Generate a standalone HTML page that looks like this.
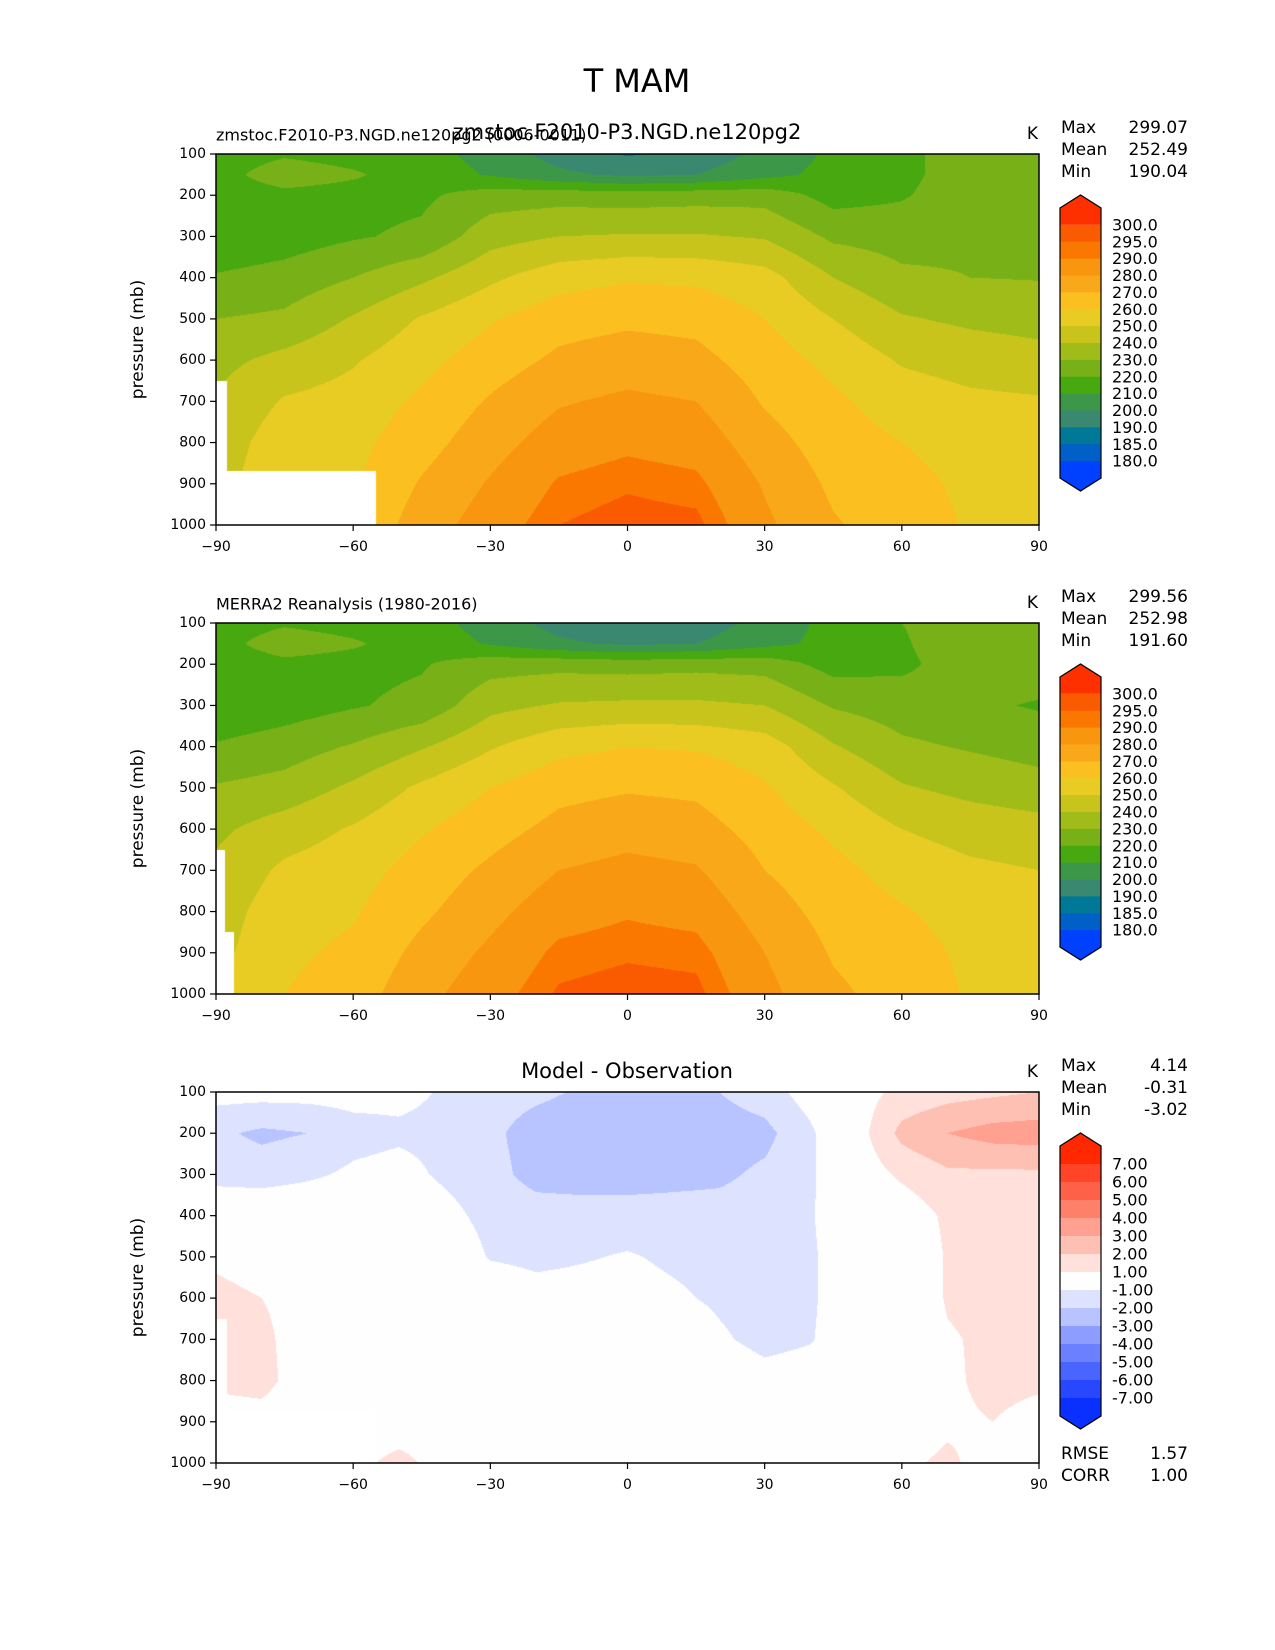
<!DOCTYPE html>
<html><head><meta charset="utf-8"><style>
html,body{margin:0;padding:0;background:#fff;}
#root{position:relative;width:1275px;height:1650px;overflow:hidden;font-family:"DejaVu Sans","Liberation Sans",sans-serif;}
canvas{position:absolute;}
svg{position:absolute;left:0;top:0;}
</style></head><body>
<div id="root">
<svg id="svg" width="1275" height="1650"></svg>
</div>
<script>
// ---------- data ----------
const lats = [-90,-75,-60,-45,-30,-15,0,15,30,45,60,75,90];
const pLevels = [100,150,200,300,400,500,600,700,800,900,1000];
const modelT = [
[216,219,217,214,206,196,189,193,203,212,218,224,226],
[217,224,221,216,209,202,198,200,207,213,217,226,228],
[216,218,217,218,225,226,225,226,226,216,219,226,227],
[212,215,219,222,236,240,241,241,239,228,226,228,229],
[221,224,230,238,248,256,259,258,254,240,232,230,229.5],
[230,232,241,251,259,266,268,267,260,250,241,238,236],
[237,243,249,257,265,272,275,273,265,257,249,246,244],
[241,251,254,262,271,279,282,280,269,262,255,252,251],
[244,256,257,266,276,285,288,286,274,265,260,256,254],
[246,258,259,271,281,291,294,292,279,268,263,258,256],
[248,259,261,275,285,295,298,297,282,271,265,259,258]];
const obsT = [
[216,219,217,214,206,196,190,194,204,213,220,225,226],
[217,224,221,216,209,202,198,200,207,213,219,226,227],
[216,218,217,219,226,227,226,227,226,216,218,225,226],
[212,215,219,223,237,241,242,242,240,229,225,222,219],
[221,225,231,239,249,257,260,259,255,241,232,229,226],
[231,234,242,252,260,267,269,268,261,251,241,237,234],
[238,245,251,259,266,273,276,274,266,258,250,246,244],
[242,252,256,264,272,280,283,281,270,263,256,252,250],
[245,256,259,268,277,286,289,287,275,266,261,256,254],
[247,258,262,273,282,292,294,293,280,269,264,258,256],
[249,260,265,277,286,296,298,297,283,272,266,259,258]];
const diffLats = [-90,-80,-70,-60,-50,-40,-30,-20,-10,0,10,20,30,40,50,60,70,80,90];
const diffP = [100,200,300,400,500,600,700,800,900,1000];
const diffT = [
[-0.6,-0.6,-0.6,-0.6,-0.7,-1.1,-1.6,-1.8,-2.1,-2.2,-2.2,-2.0,-1.5,-0.5,0.5,1.3,1.6,1.8,2.0],
[-1.8,-2.2,-2.0,-1.4,-1.2,-1.3,-1.8,-2.4,-2.6,-2.6,-2.6,-2.5,-2.3,-1.2,0.5,2.3,3.0,3.4,3.5],
[-1.4,-1.5,-1.2,-0.8,-0.6,-1.2,-1.7,-2.3,-2.4,-2.4,-2.3,-2.2,-1.8,-1.2,0.3,1.2,1.8,1.8,1.8],
[0,0,0,0,0,-0.6,-1.4,-1.6,-1.6,-1.6,-1.6,-1.6,-1.5,-1.1,0,0.3,1.2,1.4,1.4],
[0.8,0.5,0,0,0,0,-1.1,-1.3,-1.1,-0.9,-1.2,-1.4,-1.5,-1.2,0,0,1.1,1.4,1.4],
[1.3,1.0,0.5,0,0,0,0,-0.5,-0.5,-0.5,-0.8,-1.2,-1.6,-1.2,0,0,1.1,1.3,1.3],
[1.5,1.3,0.3,0,0,0,0,0,0,0,0,-0.8,-1.4,-1.1,0,0,0.9,1.2,1.2],
[1.2,1.4,0.3,0,0,0,0,0,0,0,0,0,-0.5,-0.3,0,0,0.8,1.3,1.2],
[0.5,0.5,0,0,0,0.3,0,0,0,0,0,0,0,0,0,0.3,0.8,1.0,0.6],
[0,0,0,0.5,1.5,0.3,0,0,0,0,0,0,0,0,0,0.8,1.2,0.5,0.3]];
const modelMask = [[-87.5,650],[-55,870]];
const obsMask = [[-88,650],[-86,850]];
const tLevels = [180,185,190,200,210,220,230,240,250,260,270,280,290,295,300];
const tColors = ['#0040ff','#0060c8','#007898','#3a8870','#3c9848','#48a810','#78b018','#a0bc18','#c8c41c','#e8cc24','#fbc020','#f8a818','#f99610','#fa7800','#fa5a00','#ff3000'];
const dLevels = [-7,-6,-5,-4,-3,-2,-1,1,2,3,4,5,6,7];
const dColors = ['#0a30ff','#2848ff','#4a64ff','#6a80ff','#8c9cff','#b8c4ff','#dde3ff','#fefefe','#ffe0da','#ffc0b4','#ffa090','#ff8068','#ff6048','#ff4428','#ff2800'];
const xTicks = [-90,-60,-30,0,30,60,90];
const yTicks = [100,200,300,400,500,600,700,800,900,1000];
const stats = [["299.07","252.49","190.04"],["299.56","252.98","191.60"],["4.14","-0.31","-3.02"]];

// ---------- layout ----------
const L=216,R=1039,W=R-L,H=371,tops=[154,623,1092];
const NS='http://www.w3.org/2000/svg';
const svg=document.getElementById('svg');
const root=document.getElementById('root');
function xs(lat){return L+(lat+90)/180*W;}
function ys(p,top){return top+(p-100)/900*H;}
function mk(tag,attrs,parent){const e=document.createElementNS(NS,tag);for(const k in attrs)e.setAttribute(k,attrs[k]);(parent||svg).appendChild(e);return e;}
function txt(s,x,y,size,anchor,parent){const t=mk('text',{x:x,y:y,'font-size':size,'text-anchor':anchor||'start','dominant-baseline':'central',fill:'#000'},parent);t.textContent=s;return t;}
function hex(c){return [parseInt(c.substr(1,2),16),parseInt(c.substr(3,2),16),parseInt(c.substr(5,2),16)];}
function idx(arr,v){let i=0;while(i<arr.length-2&&v>arr[i+1])i++;return i;}
function interp(gx,gy,grid,x,y){const i=idx(gx,x),j=idx(gy,y);const fx=(x-gx[i])/(gx[i+1]-gx[i]),fy=(y-gy[j])/(gy[j+1]-gy[j]);
 const a=grid[j][i],b=grid[j][i+1],c=grid[j+1][i],d=grid[j+1][i+1];return (a*(1-fx)+b*fx)*(1-fy)+(c*(1-fx)+d*fx)*fy;}
function level(levels,v){let k=0;while(k<levels.length&&v>levels[k])k++;return k;}

function drawField(top,gx,gy,grid,levels,colors,mask,name){
 const cv=document.createElement('canvas');cv.width=W;cv.height=H;cv.style.left=L+'px';cv.style.top=top+'px';
 
 
 root.insertBefore(cv,svg);
 const ctx=cv.getContext('2d');const img=ctx.createImageData(W,H);const rgb=colors.map(hex);
 for(let y=0;y<H;y++){const p=100+(y+0.5)/H*900;
  for(let x=0;x<W;x++){const lat=-90+(x+0.5)/W*180;let o=(y*W+x)*4;
   let masked=false;for(const m of mask){if(lat<m[0]&&p>m[1])masked=true;}
   let c=[255,255,255];if(!masked){c=rgb[level(levels,interp(gx,gy,grid,lat,p))];}
   img.data[o]=c[0];img.data[o+1]=c[1];img.data[o+2]=c[2];img.data[o+3]=255;}}
 ctx.putImageData(img,0,0);
}
function drawAxes(top,pi){
 const g=mk('g',{});
 
 
 mk('rect',{x:L,y:top,width:W,height:H,fill:'none',stroke:'#000','stroke-width':1.5},g);
 for(const t of xTicks){const x=xs(t);mk('line',{x1:x,x2:x,y1:top+H,y2:top+H+6,stroke:'#000','stroke-width':1.2},g);
  const e=txt(String(t).replace('-','\u2212'),x,top+H+22,14,'middle',g);
  
  }
 for(const t of yTicks){const y=ys(t,top);mk('line',{x1:L-6,x2:L,y1:y,y2:y,stroke:'#000','stroke-width':1.2},g);
  const e=txt(String(t),L-10,y,14,'end',g);
  
  }
 const yl=txt('pressure (mb)',0,0,17,'middle',g);yl.setAttribute('transform','translate(138,'+(top+H/2)+') rotate(-90)');
 
 
 txt('K',R-1,top-20,17,'end',g);
}
function drawColorbar(top,levels,colors,dec,pi){
 const off=top-154;const g=mk('g',{});
 
 
 const x0=1060,x1=1101,xm=(x0+x1)/2,tip=195+off,sh=208+off,bot=478+off,btip=491+off;
 const n=colors.length,h=(bot-sh)/n;
 for(let k=0;k<n;k++){const ci=n-1-k;const y0=sh+k*h,y1=sh+(k+1)*h;
  let pts;
  if(k===0)pts=`${x0},${y1} ${x0},${y0} ${xm},${tip} ${x1},${y0} ${x1},${y1}`;
  else if(k===n-1)pts=`${x0},${y0} ${x0},${y1} ${xm},${btip} ${x1},${y1} ${x1},${y0}`;
  else pts=`${x0},${y0} ${x1},${y0} ${x1},${y1+0.5} ${x0},${y1+0.5}`;
  const b=mk('polygon',{points:pts,fill:colors[ci]},g);
  
  }
 mk('polygon',{points:`${x0},${sh} ${xm},${tip} ${x1},${sh} ${x1},${bot} ${xm},${btip} ${x0},${bot}`,fill:'none',stroke:'#000','stroke-width':1.2},g);
 for(let k=0;k<levels.length;k++){const lv=levels[levels.length-1-k];const y=sh+(k+1)*h;
  const e=txt(lv.toFixed(dec),1112,y,16,'start',g);
  
  }
}
function drawStats(top,s,pi){
 const off=top-154;const names=['Max','Mean','Min'];
 for(let i=0;i<3;i++){const y=128+off+i*22;
  const a=txt(names[i],1061,y,17,'start');
  const b=txt(s[i],1188,y,17,'end');}
}
// ---------- render ----------
drawField(tops[0],lats,pLevels,modelT,tLevels,tColors,modelMask,'model-contour');
drawField(tops[1],lats,pLevels,obsT,tLevels,tColors,obsMask,'obs-contour');
drawField(tops[2],diffLats,diffP,diffT,dLevels,dColors,modelMask,'diff-contour');
tops.forEach((t,i)=>drawAxes(t,i));
drawColorbar(tops[0],tLevels,tColors,1,0);
drawColorbar(tops[1],tLevels,tColors,1,1);
drawColorbar(tops[2],dLevels,dColors,2,2);
stats.forEach((s,i)=>drawStats(tops[i],s,i));
const mt=txt('T MAM',637,81,32,'middle');
const t1=txt('zmstoc.F2010-P3.NGD.ne120pg2 (0006-0011)',216,135,16,'start');
const t1c=txt('zmstoc.F2010-P3.NGD.ne120pg2',627,132,21,'middle');
const t2=txt('MERRA2 Reanalysis (1980-2016)',216,604,16,'start');
const t3=txt('Model - Observation',627,1071,21,'middle');
const r1=txt('RMSE',1061,1454,17,'start');
const r2=txt('1.57',1188,1454,17,'end');
const c1=txt('CORR',1061,1476,17,'start');
const c2=txt('1.00',1188,1476,17,'end');
</script>
</body></html>
